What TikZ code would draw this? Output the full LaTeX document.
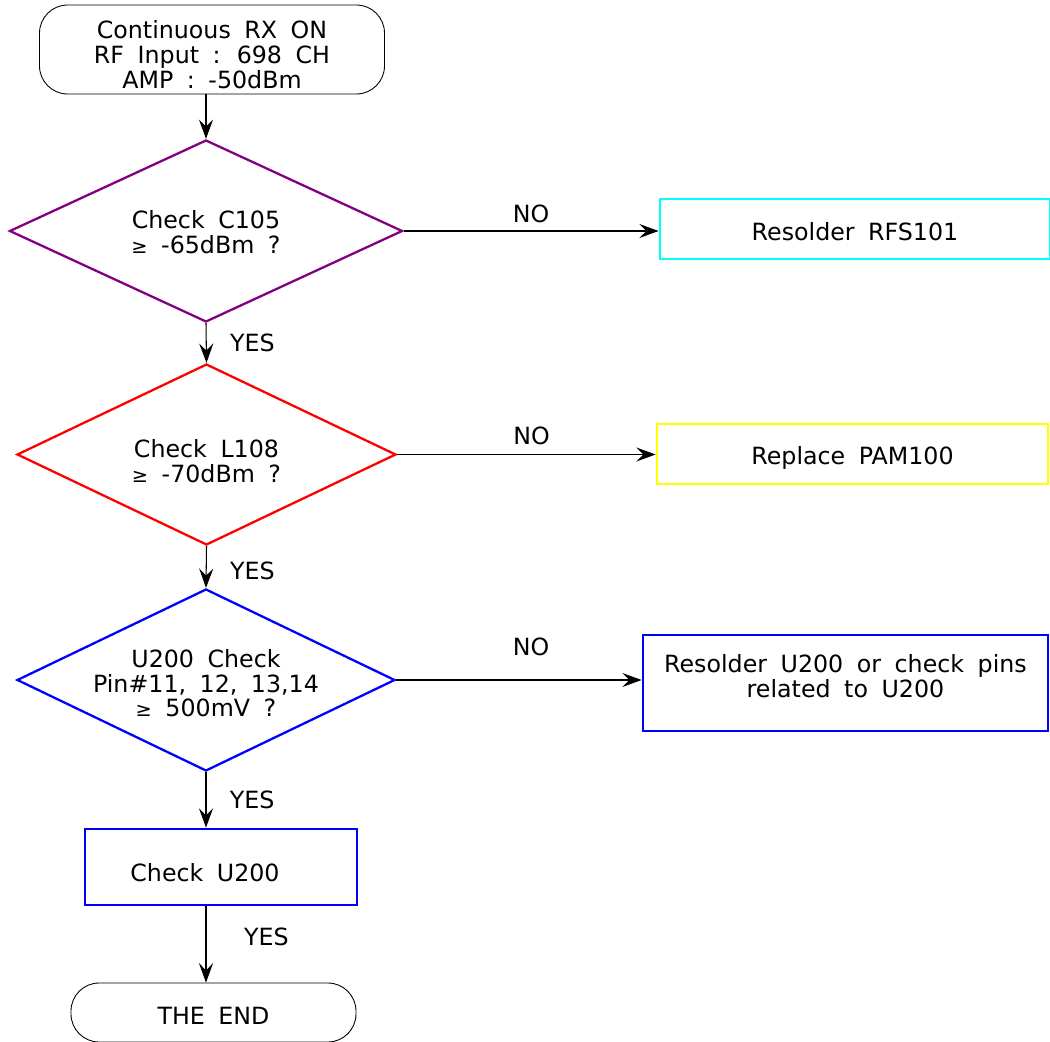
\documentclass[tikz,border=0pt]{standalone}
\usepackage{fontspec}
\setmainfont{DejaVu Sans}[WordSpace=1.8]
\usetikzlibrary{shapes.geometric,arrows.meta}
\definecolor{chkpurple}{RGB}{128,0,128}
\definecolor{chkcyan}{RGB}{0,255,255}
\definecolor{chkyellow}{RGB}{255,255,0}
\definecolor{chkblue}{RGB}{0,0,255}
\definecolor{chkred}{RGB}{255,0,0}
\newcommand{\gesign}{{\fontsize{11}{11}\selectfont ≥}}
% text set lower inside its shape, shape size unchanged
\newcommand{\lowtext}[2]{\raisebox{\dimexpr-#1-3.4pt\relax}[0pt][0pt]{\begin{tabular}{@{}c@{}}#2\end{tabular}}}
\begin{document}
\begin{tikzpicture}[every node/.style={font=\fontsize{13.5}{13.3}\selectfont},
  term/.style={draw,rounded corners=16pt,line width=0.5pt,align=center},
  dec/.style={draw,diamond,aspect=2.2,line width=1.3pt,inner sep=0pt,align=center},
  act/.style={draw,line width=1.6pt,align=center},
  flow/.style={-{Stealth[length=11pt,width=8pt,inset=4pt]},line width=0.6pt}]
\useasboundingbox (0,0) rectangle (21,-20.84);
% main column
\node[term,minimum width=6.9cm,minimum height=1.78cm] (start) at (4.24,-0.99) {\lowtext{0.18cm}{Continuous RX ON\\RF Input : 698 CH\\AMP : -50dBm}};
\node[dec,draw=chkpurple,minimum width=7.86cm,minimum height=3.64cm] (c105) at (4.12,-4.62) {\lowtext{0.09cm}{Check C105\\\gesign{} -65dBm ?}};
\node[dec,draw=chkred,minimum width=7.58cm,minimum height=3.62cm] (l108) at (4.13,-9.09) {\lowtext{0.2cm}{Check L108\\\gesign{} -70dBm ?}};
\node[dec,draw=chkblue,minimum width=7.56cm,minimum height=3.64cm] (u200) at (4.12,-13.60) {\lowtext{0.14cm}{U200 Check\\Pin\#11, 12, 13,14\\\gesign{} 500mV ?}};
\node[act,draw=chkblue,minimum width=5.44cm,minimum height=1.52cm] (chku) at (4.42,-17.34) {\lowtext{0.18cm}{Check U200\kern0.64cm}};
\node[term,minimum width=5.7cm,minimum height=1.18cm] (theend) at (4.27,-20.25) {\lowtext{0.14cm}{THE END}};
% repair boxes
\node[act,draw=chkcyan,minimum width=7.8cm,minimum height=1.2cm] (rfs) at (17.10,-4.58) {\lowtext{0.12cm}{Resolder RFS101}};
\node[act,draw=chkyellow,minimum width=7.82cm,minimum height=1.2cm] (pam) at (17.05,-9.08) {\lowtext{0.1cm}{Replace PAM100}};
\node[act,draw=chkblue,minimum width=8.1cm,minimum height=1.92cm] (resu) at (16.91,-13.66) {\lowtext{-0.06cm}{Resolder U200 or check pins\\related to U200}};
% connectors
\draw[flow] (start.south -| c105.north) -- (c105.north);
\draw[flow] (c105.south) -- node[right,xshift=10pt] {YES} (l108.north);
\draw[flow] (l108.south) -- node[right,xshift=10pt,yshift=-2pt] {YES} (u200.north);
\draw[flow] (u200.south) -- node[right,xshift=10pt] {YES} (chku.north -| u200.south);
\draw[flow] (chku.south -| u200.south) -- node[right,xshift=18pt,pos=0.4] {YES} (theend.north -| u200.south);
\draw[flow] (c105.east) -- node[above,yshift=1pt] {NO} (c105.east -| rfs.west);
\draw[flow] (l108.east) -- node[above,yshift=2pt,xshift=3pt] {NO} (l108.east -| pam.west);
\draw[flow] (u200.east) -- node[above,yshift=10pt,xshift=7pt] {NO} (u200.east -| resu.west);
\end{tikzpicture}
\end{document}
